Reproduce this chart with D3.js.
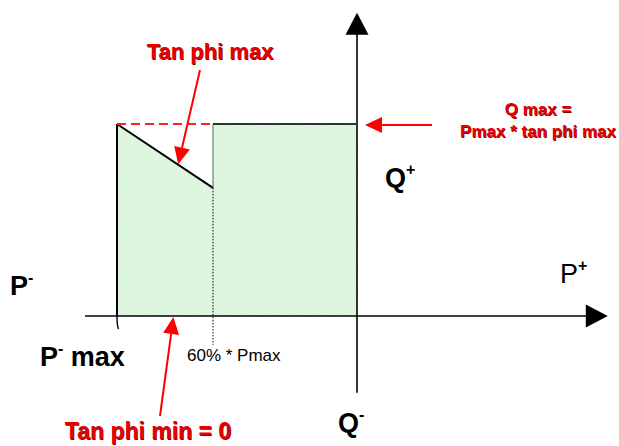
<!DOCTYPE html>
<html>
<head>
<meta charset="utf-8">
<script src="https://cdn.jsdelivr.net/npm/d3@7"></script>
<style>
  html, body { margin: 0; padding: 0; background: #fff; }
  svg { display: block; font-family: Arial, "Liberation Sans", sans-serif; }
</style>
</head>
<body>
<div id="chart"></div>
<script>
// Capability diagram data (P in units of Pmax, Q in units of Qmax)
var boundaryP = [-1, -1, -0.6, -0.6, 0, 0];
var boundaryQ = [0, 1, 0.667, 1, 1, 0];
var pMaxNeg = -1;
var pKnee = -0.6;           // 60% * Pmax
var qMax = 1;
var qKnee = 0.667;          // end of the tan phi max slope
var pAxisExtent = [-1.133, 1.045];
var qAxisExtent = [-0.40, 1.58];

var W = 619, H = 446;
var svg = d3.select("#chart").append("svg").attr("width", W).attr("height", H);

var x = d3.scaleLinear().domain([-1, 0]).range([117, 357]);
var y = d3.scaleLinear().domain([0, 1]).range([316, 124]);

// ── Hatched light green fill ─────────────────────────────
var defs = svg.append("defs");
var pat = defs.append("pattern")
  .attr("id", "hatch")
  .attr("patternUnits", "userSpaceOnUse")
  .attr("width", 3).attr("height", 3);
pat.append("rect").attr("width", 3).attr("height", 3).attr("fill", "#e2f8e2");
pat.append("path").attr("d", "M0,3 L3,0").attr("stroke", "#d2efd2").attr("stroke-width", 0.8);

var pts = boundaryP.map(function (p, i) { return [x(p), y(boundaryQ[i])]; });
svg.append("path")
  .attr("d", d3.line()(pts) + "Z")
  .attr("fill", "url(#hatch)");

// ── Axes ────────────────────────────────────────────────
svg.append("line")
  .attr("x1", x(pAxisExtent[0])).attr("x2", x(pAxisExtent[1]) - 15)
  .attr("y1", y(0)).attr("y2", y(0))
  .attr("stroke", "#000").attr("stroke-width", 1.6);
svg.append("path")
  .attr("d", "M" + x(pAxisExtent[1]) + "," + y(0) +
    " l-22,-11.5 l0,23 Z")
  .attr("fill", "#000");

svg.append("line")
  .attr("x1", x(0)).attr("x2", x(0))
  .attr("y1", y(qAxisExtent[1]) + 15).attr("y2", y(qAxisExtent[0]))
  .attr("stroke", "#000").attr("stroke-width", 1.6);
svg.append("path")
  .attr("d", "M" + x(0) + "," + y(qAxisExtent[1]) +
    " l-11.5,22 l23,0 Z")
  .attr("fill", "#000");

// ── Boundary lines ──────────────────────────────────────
function seg(p1, q1, p2, q2) {
  return svg.append("line")
    .attr("x1", x(p1)).attr("y1", y(q1))
    .attr("x2", x(p2)).attr("y2", y(q2));
}

seg(pMaxNeg, 0, pMaxNeg, qMax).attr("stroke", "#000").attr("stroke-width", 2);
seg(pMaxNeg, qMax, pKnee, qKnee).attr("stroke", "#000").attr("stroke-width", 2);
seg(pKnee, qKnee, pKnee, qMax).attr("stroke", "#556655").attr("stroke-width", 1);
seg(pKnee, qMax, 0, qMax).attr("stroke", "#333").attr("stroke-width", 2);
seg(pMaxNeg, qMax, pKnee, qMax)
  .attr("stroke", "#ff2020").attr("stroke-width", 2)
  .attr("stroke-dasharray", "9,5");
seg(pKnee, qKnee, pKnee, -0.15)
  .attr("stroke", "#000").attr("stroke-width", 1)
  .attr("stroke-dasharray", "1.5,1.5");
// small tick at P- max
svg.append("path")
  .attr("d", "M" + x(pMaxNeg) + "," + y(0) + " q0,10 1.5,13")
  .attr("fill", "none").attr("stroke", "#000").attr("stroke-width", 1.4);

// ── Red annotation arrows ───────────────────────────────
function arrow(x1, y1, x2, y2) {
  var ang = Math.atan2(y2 - y1, x2 - x1);
  var len = 17, half = 8;
  var bx = x2 - len * Math.cos(ang), by = y2 - len * Math.sin(ang);
  svg.append("line")
    .attr("x1", x1).attr("y1", y1).attr("x2", bx).attr("y2", by)
    .attr("stroke", "#ff0000").attr("stroke-width", 2);
  var nx = -Math.sin(ang) * half, ny = Math.cos(ang) * half;
  svg.append("path")
    .attr("d", "M" + x2 + "," + y2 + " L" + (bx + nx) + "," + (by + ny) +
      " L" + (bx - nx) + "," + (by - ny) + " Z")
    .attr("fill", "#ff0000");
}
arrow(200, 70, x(-0.745), y(0.79));
arrow(432, y(qMax) + 1, x(0) + 8, y(qMax) + 1);
arrow(160, 416, x(-0.765), y(0) + 1);

// ── Labels ──────────────────────────────────────────────
function redText(tx, ty, str, size) {
  [["#8a0000", 0.8], ["#e60000", 0]].forEach(function (c) {
    svg.append("text")
      .attr("x", tx + c[1]).attr("y", ty + c[1])
      .attr("text-anchor", "middle")
      .attr("font-size", size).attr("font-weight", "bold")
      .attr("fill", c[0])
      .text(str);
  });
}
redText(210, 59, "Tan phi max", 22);
redText(538, 115, "Q max =", 17);
redText(538, 137, "Pmax * tan phi max", 17);
redText(148, 439, "Tan phi min = 0", 23);

function axisLabel(tx, ty, base, sup, bold) {
  var t = svg.append("text")
    .attr("x", tx).attr("y", ty)
    .attr("font-size", 27).attr("font-weight", bold ? "bold" : "normal")
    .attr("fill", "#000");
  t.append("tspan").text(base);
  t.append("tspan").attr("font-size", 16).attr("font-weight", "bold")
    .attr("dy", -12).text(sup);
  return t;
}
axisLabel(10, 295, "P", "-", true);
axisLabel(385, 187, "Q", "+", true);
axisLabel(560, 283, "P", "+", false);
axisLabel(338, 432, "Q", "-", true);

var pm = svg.append("text").attr("x", 40).attr("y", 366)
  .attr("font-size", 27).attr("font-weight", "bold").attr("fill", "#000");
pm.append("tspan").text("P");
pm.append("tspan").attr("font-size", 16).attr("dy", -12).text("-");
pm.append("tspan").attr("dy", 12).text(" max");

svg.append("text")
  .attr("x", 187).attr("y", 361)
  .attr("font-size", 17).attr("fill", "#000")
  .text("60% * Pmax");
</script>
</body>
</html>
